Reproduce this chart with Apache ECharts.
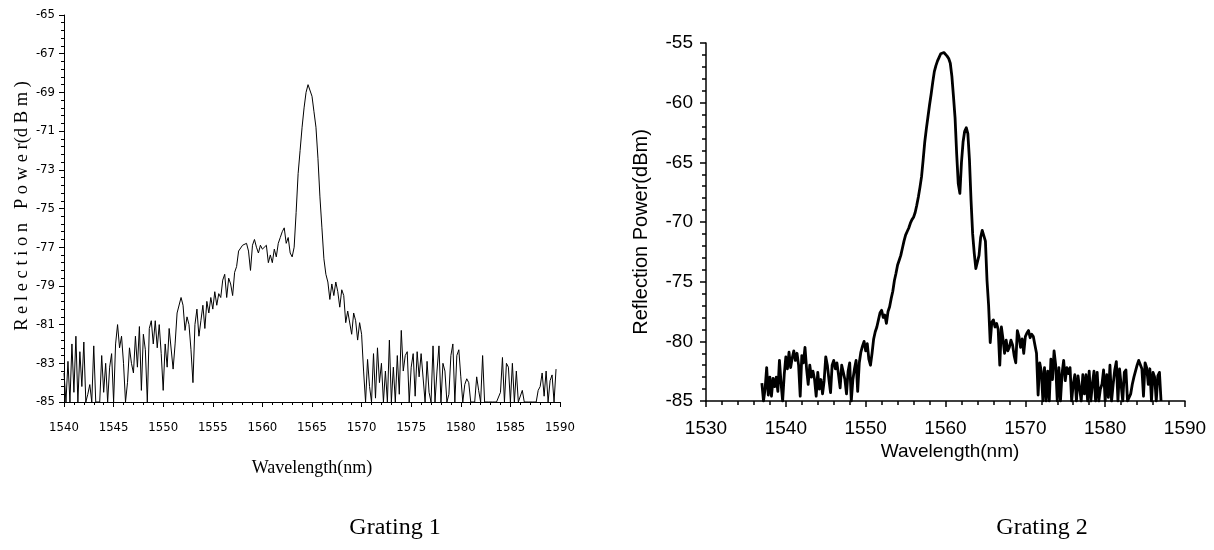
<!DOCTYPE html>
<html><head><meta charset="utf-8">
<script src="https://cdn.jsdelivr.net/npm/echarts@6/dist/echarts.min.js"></script>
<style>html,body{margin:0;padding:0;background:#fff}#c{width:1214px;height:550px}</style>
</head><body><div id="c"></div>
<script>
// ---- Grating 1 (wavelength from 1540.0 nm, 0.2 nm step) ----
const g1Start = 1540.0, g1Step = 0.2;
const g1Power = [
-83.5,-85,-82.9,-85,-82.0,-84.5,-81.6,-85,-82.4,-84.2,
-81.9,-85,-84.6,-84.1,-85,-82.1,-85,-85,-85,-82.6,
-84.5,-83.0,-85,-83.2,-82.5,-85,-82.0,-81.0,-82.2,-81.6,
-83.0,-85,-84.0,-82.2,-83.0,-83.5,-81.6,-83.2,-81.1,-84.4,
-81.5,-82.3,-85,-81.2,-80.8,-82.0,-80.8,-82.2,-81.0,-82.5,
-84.4,-82.0,-83.2,-81.2,-81.3,-83.3,-82.0,-80.4,-80.3,-79.6,
-80.0,-81.3,-80.6,-81.0,-82.3,-84.0,-81.0,-80.2,-81.6,-80.8,
-80.0,-81.2,-79.8,-80.4,-79.6,-80.2,-79.3,-80.0,-79.4,-79.6,
-78.7,-78.4,-79.6,-78.6,-78.9,-79.5,-78.3,-78.0,-77.2,-77.3,
-76.9,-77.0,-76.8,-77.2,-78.2,-76.9,-76.6,-77.0,-77.3,-76.9,
-77.1,-77.2,-76.9,-77.8,-77.4,-77.8,-77.1,-77.5,-76.8,-76.5,
-76.2,-76.0,-76.8,-76.5,-77.3,-77.5,-77.0,-75.2,-73.2,-72.0,
-70.8,-69.8,-69.0,-68.6,-68.6,-69.2,-70.0,-70.8,-72.4,-74.4,
-76.0,-77.6,-78.4,-78.8,-79.7,-78.9,-79.5,-78.8,-79.3,-80.1,
-79.2,-79.5,-80.9,-80.3,-80.3,-81.5,-80.4,-80.8,-81.8,-80.9,
-81.5,-83.4,-85,-82.8,-84.2,-85,-82.5,-84.8,-82.2,-84.0,
-83.0,-85,-83.4,-85,-81.8,-85,-83.2,-85,-82.6,-84.6,
-81.3,-83.4,-82.6,-82.4,-85,-83.2,-82.5,-84.7,-82.4,-83.7,
-82.5,-82.4,-85,-82.9,-84.5,-85,-82.1,-85,-83.4,-82.1,
-85,-83.0,-83.4,-85,-84.6,-82.6,-82.0,-85,-82.6,-82.3,
-83.7,-85,-84.1,-83.8,-84.0,-85,-85,-85,-83.7,-84.4,
-85,-82.6,-85,-85,-85,-85,-85,-85,-85,-85,
-84.5,-82.7,-85,-83.0,-83.2,-85,-83.0,-85,-83.4,-85,
-85,-84.4,-85,-85,-85,-85,-85,-85,-85,-84.4,
-84.2,-83.5,-84.7,-83.4,-85,-83.9,-83.6,-85,-83.3
];
// ---- Grating 2 (wavelength from 1537.0 nm, 0.2 nm step) ----
const g2Start = 1537.0, g2Step = 0.2;
const g2Power = [
-83.5,-85,-84.0,-82.2,-84.5,-83.0,-84.6,-83.1,-83.8,-83.0,
-84.2,-81.6,-83.5,-85,-82.8,-81.3,-82.3,-80.9,-82.2,-81.4,
-80.8,-81.6,-81.0,-82.0,-84.6,-81.2,-81.8,-80.5,-82.3,-83.6,
-82.0,-83.0,-82.5,-83.2,-84.6,-82.6,-84.0,-83.2,-84.4,-83.3,
-81.3,-82.0,-83.2,-84.3,-82.0,-81.6,-82.3,-81.8,-82.8,-83.9,
-82.0,-82.6,-83.2,-84.4,-82.5,-81.8,-85,-83.2,-82.3,-81.6,
-84.2,-81.8,-80.9,-80.4,-80.0,-80.8,-80.2,-81.5,-82.0,-81.0,
-79.8,-79.2,-78.8,-78.2,-77.6,-77.4,-78.0,-77.8,-78.5,-77.5,
-77.1,-76.4,-75.8,-74.9,-74.3,-73.6,-73.2,-72.8,-72.2,-71.6,
-71.1,-70.8,-70.5,-70.1,-69.8,-69.6,-69.2,-68.6,-67.9,-67.1,
-66.2,-64.8,-63.3,-62.2,-61.2,-60.2,-59.3,-58.3,-57.4,-56.9,
-56.5,-56.2,-55.9,-55.8,-55.8,-55.9,-56.1,-56.3,-56.7,-57.8,
-59.5,-61.3,-64.3,-66.8,-67.6,-65.0,-63.3,-62.4,-62.1,-62.6,
-64.8,-68.2,-71.0,-72.6,-73.9,-73.8,-72.8,-71.3,-70.7,-70.8,
-71.6,-74.9,-77.0,-80.1,-78.4,-78.2,-78.8,-78.5,-79.0,-82.0,
-78.8,-79.8,-81.0,-79.9,-80.8,-80.5,-79.9,-80.3,-81.2,-81.8,
-79.1,-79.6,-80.5,-79.8,-81.0,-79.6,-79.3,-79.1,-79.7,-79.4,
-79.6,-80.3,-81.0,-84.5,-81.8,-82.5,-85,-82.2,-85,-82.5,
-85,-81.5,-83.2,-80.8,-82.0,-85,-82.2,-85,-82.7,-81.6,
-83.3,-82.2,-82.7,-82.2,-85,-83.6,-82.8,-85,-82.9,-82.8,
-85,-82.8,-84.4,-82.8,-85,-82.5,-85,-83.6,-82.5,-85,
-82.6,-85,-84.0,-83.6,-82.4,-85,-82.8,-84.7,-82.0,-85,
-83.6,-82.4,-81.7,-85,-82.3,-82.4,-85,-82.6,-82.4,-85,
-84.7,-84.4,-83.6,-83.0,-82.5,-82.0,-81.6,-81.5,-82.3,-84.6,
-81.8,-82.2,-83.6,-82.3,-85,-82.6,-83.0,-85,-82.9,-82.6,
-85
];
// ---- axis ranges / ticks ----
const g1X = {min: 1540, max: 1590, interval: 5};
const g1Y = {min: -85, max: -65, interval: 2};
const g2X = {min: 1530, max: 1590, interval: 10};
const g2Y = {min: -85, max: -55, interval: 5};
// ---- texts ----
const g1YName = 'R e l e c t i o n   P o w e r(d B m )';
const g2YName = 'Reflection Power(dBm)';
const xName = 'Wavelength(nm)';
const captions = ['Grating 1', 'Grating 2'];

const pairs = (start, step, arr) => arr.map((v, i) => [Math.round((start + i * step) * 10) / 10, v]);

const narrow = "'DejaVu Sans Condensed','Liberation Sans Narrow','Liberation Sans',sans-serif";
const serif = "'Liberation Serif','Times New Roman',serif";
const sans = "'Liberation Sans',Arial,sans-serif";

function axis(gridIndex, r, o) {
  return {
    gridIndex, type: 'value', min: r.min, max: r.max, interval: r.interval,
    axisLine: {show: true, onZero: false, lineStyle: o.line},
    axisTick: {show: true, inside: false, length: o.tick, lineStyle: o.line},
    minorTick: {show: true, splitNumber: 5, length: o.minor, lineStyle: o.line},
    splitLine: {show: false}, minorSplitLine: {show: false},
    axisLabel: {show: true, color: '#000', fontFamily: o.font, fontSize: o.size, margin: o.margin,
                hideOverlap: false, formatter: v => String(v)}
  };
}

const chart = echarts.init(document.getElementById('c'), null, {renderer: 'canvas'});
chart.setOption({
  animation: false,
  backgroundColor: '#fff',
  grid: [
    {left: 64, top: 15, width: 496, height: 387, containLabel: false},
    {left: 706, top: 43, width: 479, height: 358, containLabel: false}
  ],
  xAxis: [
    axis(0, g1X, {line: {color: '#000', width: 1}, tick: 5, minor: 3, font: narrow, size: 13, margin: 19}),
    axis(1, g2X, {line: {color: '#000', width: 1.5}, tick: 6, minor: 4, font: sans, size: 19, margin: 18})
  ],
  yAxis: [
    axis(0, g1Y, {line: {color: '#000', width: 1}, tick: 5, minor: 3, font: narrow, size: 13, margin: 9}),
    axis(1, g2Y, {line: {color: '#000', width: 1.5}, tick: 6, minor: 4, font: sans, size: 19, margin: 13})
  ],
  series: [
    {type: 'line', xAxisIndex: 0, yAxisIndex: 0, data: pairs(g1Start, g1Step, g1Power),
     showSymbol: false, symbol: 'none', clip: true, lineStyle: {color: '#000', width: 1}},
    {type: 'line', xAxisIndex: 1, yAxisIndex: 1, data: pairs(g2Start, g2Step, g2Power),
     showSymbol: false, symbol: 'none', clip: true, lineStyle: {color: '#000', width: 2.8, join: 'round'}}
  ],
  graphic: [
    {type: 'text', x: 22, y: 206, rotation: Math.PI / 2,
     style: {text: g1YName, font: '18.5px ' + serif, fill: '#000', align: 'center', verticalAlign: 'middle'}},
    {type: 'text', x: 641, y: 232, rotation: Math.PI / 2,
     style: {text: g2YName, font: '20px ' + sans, fill: '#000', align: 'center', verticalAlign: 'middle'}},
    {type: 'text', x: 312, y: 468,
     style: {text: xName, font: '18px ' + serif, fill: '#000', align: 'center', verticalAlign: 'middle'}},
    {type: 'text', x: 950, y: 452,
     style: {text: xName, font: '19px ' + sans, fill: '#000', align: 'center', verticalAlign: 'middle'}},
    {type: 'text', x: 395, y: 528,
     style: {text: captions[0], font: '24px ' + serif, fill: '#000', align: 'center', verticalAlign: 'middle'}},
    {type: 'text', x: 1042, y: 528,
     style: {text: captions[1], font: '24px ' + serif, fill: '#000', align: 'center', verticalAlign: 'middle'}}
  ]
});
</script>
</body></html>
